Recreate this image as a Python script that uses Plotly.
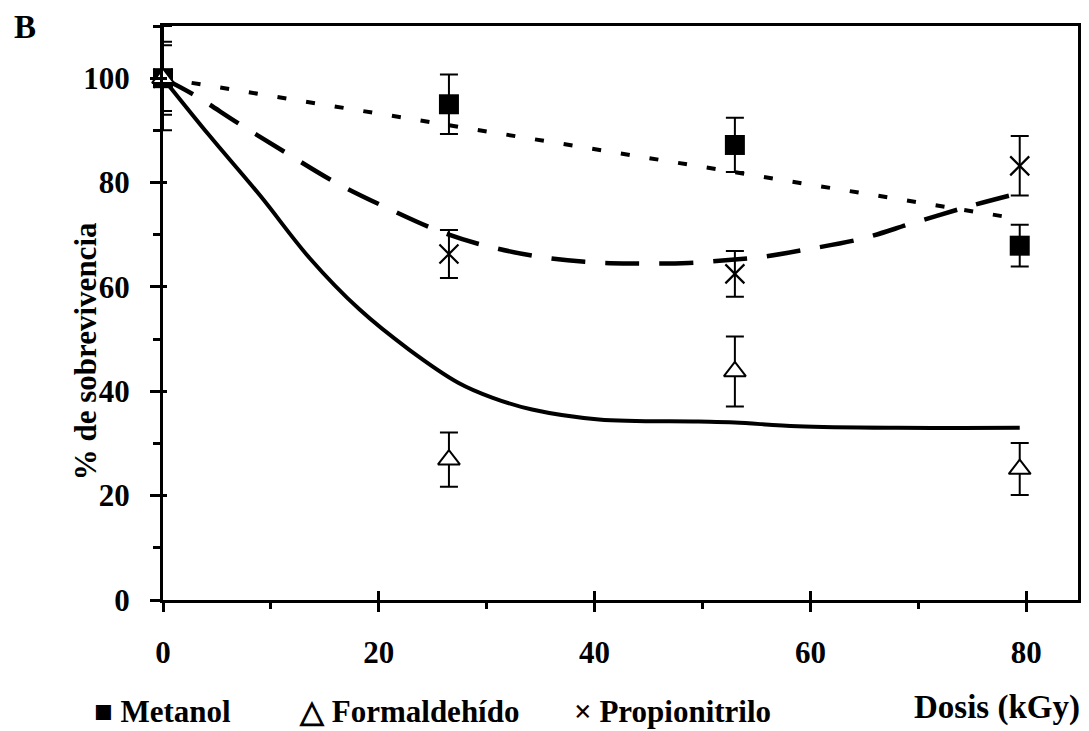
import plotly.graph_objects as go

# ---- data ----
dose = [0, 26.5, 53, 79.4]

metanol = [100, 95.0, 87.2, 67.9]
metanol_err = [6.3, 5.7, 5.2, 4.0]

formaldehido = [100, 26.9, 43.8, 25.1]
formaldehido_err = [7.0, 5.2, 6.7, 5.0]

propionitrilo = [100, 66.3, 62.5, 83.2]
propionitrilo_err = [10.0, 4.6, 4.4, 5.7]

# fitted trend curves
solid_x = [0, 4.3, 9.0, 13.6, 18.2, 22.8, 27.4, 30.5, 34.2, 40.4, 49.6, 53.0, 58.8, 68.0, 79.4]
solid_y = [100, 89.0, 77.5, 65.5, 55.7, 48.0, 41.6, 38.8, 36.5, 34.6, 34.2, 34.0, 33.3, 33.0, 33.0]

dashed_x = [0, 2.8, 7.1, 11.4, 16.0, 20.7, 25.6, 29.5, 34.5, 39.1, 43.4, 48.7, 52.7, 55.7, 59.7, 64.7, 69.6, 74.8, 79.4]
dashed_y = [100, 96.9, 91.2, 85.7, 80.0, 75.2, 70.7, 68.1, 65.9, 64.8, 64.5, 64.6, 65.2, 65.8, 67.2, 69.2, 72.3, 75.5, 78.0]

dotted_x = [0, 79.4]
dotted_y = [100, 73.0]

x_range = [0, 84.8]
y_range = [0, 110]
x_ticks = [0, 20, 40, 60, 80]
y_ticks = [0, 20, 40, 60, 80, 100]

legend_labels = ["■ Metanol", "△ Formaldehído", "× Propionitrilo"]
x_title = "Dosis (kGy)"
y_title = "% de sobrevivencia"
panel_label = "B"

# ---- layout geometry (pixels in the 1089x731 window; the page body adds an 8px margin) ----
PAGE = 8
W, H = 1089 - PAGE, 731 - PAGE
L, R, T, B = 163 - PAGE, 1081 - PAGE, 26 - PAGE, 600 - PAGE
PW, PH = R - L, B - T


def px(xp):
    return (xp - PAGE - L) / PW


def py(yp):
    return (B - (yp - PAGE)) / PH


FONT = "Liberation Serif"
BOLD = dict(family=FONT, size=31, color="black", weight="bold")

fig = go.Figure()

# trend lines
fig.add_trace(go.Scatter(x=solid_x, y=solid_y, mode="lines", line_shape="spline",
                         line=dict(color="black", width=4), showlegend=False, hoverinfo="skip"))
fig.add_trace(go.Scatter(x=dashed_x, y=dashed_y, mode="lines", line_shape="spline",
                         line=dict(color="black", width=4.5, dash="34px,20px"), showlegend=False,
                         hoverinfo="skip"))
fig.add_trace(go.Scatter(x=dotted_x, y=dotted_y, mode="lines",
                         line=dict(color="black", width=4, dash="9px,20px"), showlegend=False,
                         hoverinfo="skip"))

err_style = dict(type="data", color="black", thickness=2, width=9)

fig.add_trace(go.Scatter(x=dose, y=propionitrilo, mode="markers", name="Propionitrilo",
                         marker=dict(symbol="x-thin", size=19, line=dict(color="black", width=2.2)),
                         error_y=dict(array=propionitrilo_err, **err_style),
                         cliponaxis=False, showlegend=False))
fig.add_trace(go.Scatter(x=dose, y=metanol, mode="markers", name="Metanol",
                         marker=dict(symbol="square", size=20, color="black"),
                         error_y=dict(array=metanol_err, **err_style),
                         cliponaxis=False, showlegend=False))
fig.add_trace(go.Scatter(x=dose, y=formaldehido, mode="markers", name="Formaldehído",
                         marker=dict(symbol="triangle-up", size=19, color="white",
                                     line=dict(color="black", width=2)),
                         error_y=dict(array=formaldehido_err, **err_style),
                         cliponaxis=False, showlegend=False))

# empty trace to activate the overlay axes used for the inward tick stubs
fig.add_trace(go.Scatter(x=[], y=[], xaxis="x2", yaxis="y2", showlegend=False))

axis_common = dict(showgrid=False, zeroline=False, showline=True, linewidth=3,
                   linecolor="black", mirror=True, tickcolor="black", tickwidth=3,
                   tickfont=BOLD)

fig.update_layout(
    width=W, height=H,
    margin=dict(l=L, r=W - R, t=T, b=H - B),
    paper_bgcolor="white", plot_bgcolor="white",
    showlegend=False,
    xaxis=dict(range=x_range, tickvals=x_ticks, ticks="outside", ticklen=9,
               minor=dict(tick0=0, dtick=10, ticks="outside", ticklen=6, tickwidth=3,
                          tickcolor="black"),
               ticklabelstandoff=14, **axis_common),
    yaxis=dict(range=y_range, tickvals=y_ticks, ticks="outside", ticklen=10,
               minor=dict(tick0=0, dtick=10, ticks="outside", ticklen=7, tickwidth=3,
                          tickcolor="black"),
               ticklabelstandoff=14, **axis_common),
    xaxis2=dict(overlaying="x", anchor="y", side="bottom", range=x_range, tickvals=x_ticks,
                ticks="inside", ticklen=9, tickwidth=3, tickcolor="black",
                showticklabels=False, showline=False, showgrid=False, zeroline=False),
    yaxis2=dict(overlaying="y", anchor="x", side="left", range=y_range, tickvals=y_ticks,
                ticks="inside", ticklen=4, tickwidth=3, tickcolor="black",
                showticklabels=False, showline=False, showgrid=False, zeroline=False),
)

ann = []
ann.append(dict(text=panel_label, x=px(12), y=py(27), xref="paper", yref="paper",
                xanchor="left", yanchor="middle", showarrow=False,
                font=dict(family=FONT, size=33, color="black", weight="bold")))
ann.append(dict(text=y_title, x=px(85), y=py(351), xref="paper", yref="paper",
                xanchor="center", yanchor="middle", textangle=-90, showarrow=False,
                font=dict(family=FONT, size=31, color="black", weight="bold")))
legend_x = [92, 297, 573]
for lab, lx in zip(legend_labels, legend_x):
    ann.append(dict(text=lab, x=px(lx), y=py(711), xref="paper", yref="paper",
                    xanchor="left", yanchor="middle", showarrow=False, font=BOLD))
ann.append(dict(text=x_title, x=px(1085), y=py(707), xref="paper", yref="paper",
                xanchor="right", yanchor="middle", showarrow=False,
                font=dict(family=FONT, size=33, color="black", weight="bold")))
fig.update_layout(annotations=ann)

fig.write_html("out.html")
